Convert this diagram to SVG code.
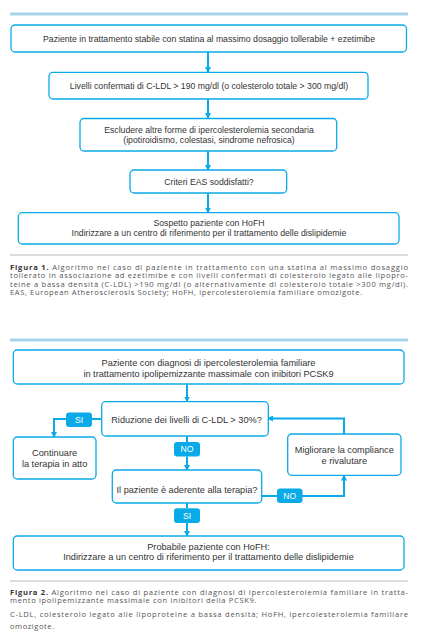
<svg xmlns="http://www.w3.org/2000/svg" width="434" height="641" viewBox="0 0 434 641">
<style>
.box{fill:#fff;stroke:#0aaae8;stroke-width:1.3}
.t{font-family:"Liberation Sans",Arial,sans-serif;fill:#333;text-anchor:middle}
.f1{font-size:8.7px}
.f2{font-size:9.2px}
.c{stroke:#0aaae8;stroke-width:2;fill:none}
.lab{fill:#0aaae8}
.lt{font-family:"Liberation Sans",Arial,sans-serif;font-size:8.6px;fill:#fff;text-anchor:middle}
.cap{font-family:"Open Sans","Noto Sans",sans-serif;font-size:7.6px;fill:#555}
.bar{stroke:#a7d3e8;stroke-width:3}
.sep{stroke:#aaa;stroke-width:0.8}
</style>
<defs>
<marker id="ah" markerUnits="userSpaceOnUse" markerWidth="6" markerHeight="6" refX="5" refY="3" orient="auto">
<path d="M0,0 L6,3 L0,6 z" fill="#0aaae8"/>
</marker>
</defs>
<rect width="434" height="641" fill="#fff"/>
<line class="bar" x1="10" y1="14" x2="408" y2="14"/>
<line class="bar" x1="10" y1="340" x2="408" y2="340"/>

<g id="connectors">
<line class="c" x1="208" y1="52" x2="208" y2="72" marker-end="url(#ah)"/>
<line class="c" x1="208" y1="99" x2="208" y2="118" marker-end="url(#ah)"/>
<line class="c" x1="208" y1="151" x2="208" y2="170" marker-end="url(#ah)"/>
<line class="c" x1="208" y1="193" x2="208" y2="212.5" marker-end="url(#ah)"/>
<line class="c" x1="187" y1="384" x2="187" y2="401.5" marker-end="url(#ah)"/>
<line class="c" x1="102" y1="419" x2="92" y2="419"/>
<polyline class="c" points="66,419 54,419 54,437" marker-end="url(#ah)"/>
<line class="c" x1="187" y1="436" x2="187" y2="442"/>
<line class="c" x1="187" y1="456.5" x2="187" y2="470" marker-end="url(#ah)"/>
<line class="c" x1="262" y1="496" x2="277" y2="496"/>
<polyline class="c" points="302,496 344,496 344,475.5" marker-end="url(#ah)"/>
<polyline class="c" points="344,434 344,418.5 268,418.5" marker-end="url(#ah)"/>
<line class="c" x1="187" y1="503" x2="187" y2="508"/>
<line class="c" x1="187" y1="523" x2="187" y2="536" marker-end="url(#ah)"/>
</g>

<g id="n1"><rect class="box" x="11" y="25" width="395.5" height="27" rx="4"/>
<text class="t f1" x="209" y="41.8">Paziente in trattamento stabile con statina al massimo dosaggio tollerabile + ezetimibe</text></g>
<g id="n2"><rect class="box" x="49" y="72.3" width="319" height="26.7" rx="4"/>
<text class="t f1" x="209" y="88.8">Livelli confermati di C-LDL &gt; 190 mg/dl (o colesterolo totale &gt; 300 mg/dl)</text></g>
<g id="n3"><rect class="box" x="80" y="118.5" width="256.7" height="32.5" rx="4"/>
<text class="t f1" x="209" y="133">Escludere altre forme di ipercolesterolemia secondaria</text>
<text class="t f1" x="209" y="143.3">(ipotiroidismo, colestasi, sindrome nefrosica)</text></g>
<g id="n4"><rect class="box" x="130" y="170" width="156.7" height="23" rx="4"/>
<text class="t f1" x="209" y="184.7">Criteri EAS soddisfatti?</text></g>
<g id="n5"><rect class="box" x="18.3" y="212.7" width="380.7" height="31.3" rx="4"/>
<text class="t f1" x="209" y="226">Sospetto paziente con HoFH</text>
<text class="t f1" x="209" y="236.3">Indirizzare a un centro di riferimento per il trattamento delle dislipidemie</text></g>

<line class="sep" x1="10" y1="255" x2="408" y2="255"/>
<text class="cap" x="10" y="269.5" textLength="398" lengthAdjust="spacing"><tspan font-weight="bold" fill="#333">Figura 1.</tspan> Algoritmo nel caso di paziente in trattamento con una statina al massimo dosaggio</text>
<text class="cap" x="10" y="278" textLength="398" lengthAdjust="spacing">tollerato in associazione ad ezetimibe e con livelli confermati di colesterolo legato alle lipopro-</text>
<text class="cap" x="10" y="286.5" textLength="398" lengthAdjust="spacing">teine a bassa densità (C-LDL) &gt;190 mg/dl (o alternativamente di colesterolo totale &gt;300 mg/dl).</text>
<text class="cap" x="10" y="295" textLength="352" lengthAdjust="spacing">EAS, European Atherosclerosis Society; HoFH, ipercolesterolemia familiare omozigote.</text>

<g id="nA"><rect class="box" x="13.3" y="350" width="390.7" height="34" rx="4"/>
<text class="t f2" x="208.5" y="366.3">Paziente con diagnosi di ipercolesterolemia familiare</text>
<text class="t f2" x="208.5" y="376.6">in trattamento ipolipemizzante massimale con inibitori PCSK9</text></g>
<g id="nB"><rect class="box" x="101.7" y="401.7" width="166.6" height="34.3" rx="4"/>
<text class="t f2" x="186.5" y="423.2">Riduzione dei livelli di C-LDL &gt; 30%?</text></g>
<g id="nCont"><rect class="box" x="13.3" y="437" width="82.7" height="42" rx="4"/>
<text class="t f2" x="54.6" y="456.2">Continuare</text>
<text class="t f2" x="54.6" y="466.5">la terapia in atto</text></g>
<g id="nMig"><rect class="box" x="287.7" y="434" width="113.3" height="41.3" rx="4"/>
<text class="t f2" x="344.3" y="453.2">Migliorare la compliance</text>
<text class="t f2" x="344.3" y="463.7">e rivalutare</text></g>
<g id="nC"><rect class="box" x="112.3" y="470" width="149.4" height="33" rx="4"/>
<text class="t f2" x="187" y="493.2">Il paziente è aderente alla terapia?</text></g>
<g id="nD"><rect class="box" x="13.3" y="536" width="390.7" height="34" rx="4"/>
<text class="t f2" x="208.5" y="549.8">Probabile paziente con HoFH:</text>
<text class="t f2" x="208.5" y="560.4">Indirizzare a un centro di riferimento per il trattamento delle dislipidemie</text></g>

<g id="lSI1"><rect class="lab" x="66" y="412.5" width="26" height="14.5" rx="3"/><text class="lt" x="79" y="422.8">SI</text></g>
<g id="lNO1"><rect class="lab" x="174" y="442" width="26" height="14.5" rx="3"/><text class="lt" x="187" y="452.3">NO</text></g>
<g id="lNO2"><rect class="lab" x="277" y="488.5" width="25.5" height="14.5" rx="3"/><text class="lt" x="289.7" y="498.8">NO</text></g>
<g id="lSI2"><rect class="lab" x="174" y="508.3" width="26" height="14.7" rx="3"/><text class="lt" x="187" y="518.7">SI</text></g>

<line class="sep" x1="10" y1="581" x2="408" y2="581"/>
<text class="cap" x="10" y="594.5" textLength="398" lengthAdjust="spacing"><tspan font-weight="bold" fill="#333">Figura 2.</tspan> Algoritmo nel caso di paziente con diagnosi di ipercolesterolemia familiare in tratta-</text>
<text class="cap" x="10" y="603" textLength="246.5" lengthAdjust="spacing">mento ipolipemizzante massimale con inibitori della PCSK9.</text>
<text class="cap" x="10" y="617" textLength="398" lengthAdjust="spacing">C-LDL, colesterolo legato alle lipoproteine a bassa densità; HoFH, ipercolesterolemia familiare</text>
<text class="cap" x="10" y="628.7" textLength="44" lengthAdjust="spacing">omozigote.</text>
</svg>
